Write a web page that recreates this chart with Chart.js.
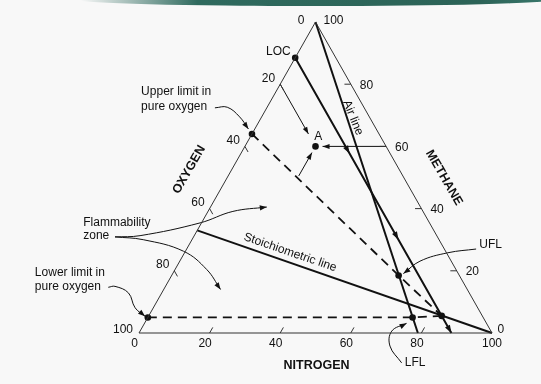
<!DOCTYPE html>
<html>
<head>
<meta charset="utf-8">
<title>Methane flammability diagram</title>
<script src="https://cdn.jsdelivr.net/npm/chart.js"></script>
<style>
  html, body { margin: 0; padding: 0; background: #f8f8f8; }
  body { width: 541px; height: 384px; position: relative; overflow: hidden; }
  .topbar {
    position: absolute; left: 80px; top: 0; width: 470px; height: 6px;
    background: linear-gradient(to right, rgba(46,106,94,0), #2f6a5e 25%, #2c6357 85%, #3a786c);
    border-radius: 0 0 50% 50% / 0 0 100% 100%;
  }
  canvas { position: absolute; left: 0; top: 0; }
</style>
</head>
<body>
<div class="topbar"></div>
<canvas id="chart" width="541" height="384"></canvas>
<script>
// compositions are [oxygen, nitrogen, methane] in %
const tickValues = [0, 20, 40, 60, 80, 100];
const triangle = [[100, 0, 0], [0, 100, 0], [0, 0, 100], [100, 0, 0]];
const airLine = [[0, 0, 100], [21, 79, 0]];
const locLine = [[11.5, 0, 88.5], [11.5, 30.8, 57.7], [11.5, 58.5, 30], [11.5, 88.5, 0]];
const stoichLine = [[67, 0, 33], [0, 100, 0]];
const upperBoundary = [[36, 0, 64], [17.2, 64.3, 18.5], [11.5, 83, 5.5]];
const lowerBoundary = [[95, 0, 5], [20, 75, 5], [11.5, 83, 5.5]];
const markedPoints = [[11.5, 0, 88.5], [36, 0, 64], [20, 20, 60], [95, 0, 5], [17.2, 64.3, 18.5], [20, 75, 5], [11.5, 83, 5.5]];
const arrowOxygen = [[20, 0, 80], [20, 16, 64]];
const arrowMethane = [[0, 40, 60], [18, 22, 60]];
const arrowNitrogen = [[29.5, 20, 50.5], [22, 20, 58]];

// callout curves, in plain chart units (x, y)
const calloutUpperO2 = [[21.5, 72.4], [25.0, 72.6], [28.5, 69.5], [31.0, 65.6]];
const calloutLowerO2 = [[-8.7, 14.7], [-6.8, 15.0], [-3.0, 12.9], [-1.1, 8.1], [1.7, 5.4]];
const calloutZoneUp = [[-6.8, 30.9], [0.3, 31.3], [17.3, 35.4], [26.6, 39.1], [36.2, 40.5]];
const calloutZoneDown = [[-6.8, 30.9], [1.2, 30.0], [12.6, 26.3], [19.2, 20.4], [23.1, 14.0]];
const calloutUFL = [[95.5, 27.0], [87.5, 25.8], [79.6, 23.1], [74.9, 19.1]];
const calloutLFL = [[74.4, -9.6], [71.1, -4.2], [71.6, 0.6], [75.8, 3.1]];

const labels = [
  { text: 'LOC', x: 39.5, y: 90.6 },
  { text: 'A', x: 50.8, y: 63.0 },
  { text: 'UFL', x: 99.6, y: 28.4 },
  { text: 'LFL', x: 78.2, y: -9.6 },
  { text: 'Upper limit in', x: 0.6, y: 77.5, align: 'left' },
  { text: 'pure oxygen', x: 0.6, y: 72.9, align: 'left' },
  { text: 'Flammability', x: -15.8, y: 35.6, align: 'left' },
  { text: 'zone', x: -15.8, y: 31.2, align: 'left' },
  { text: 'Lower limit in', x: -29.5, y: 19.3, align: 'left' },
  { text: 'pure oxygen', x: -29.5, y: 14.8, align: 'left' },
  { text: 'Air line', x: 60.6, y: 69.2, rot: 68 },
  { text: 'Stoichiometric line', x: 42.8, y: 25.9, rot: 19 },
  { text: 'OXYGEN', x: 14.2, y: 52.5, rot: -60, bold: true },
  { text: 'METHANE', x: 86.4, y: 49.9, rot: 60, bold: true },
  { text: 'NITROGEN', x: 50.3, y: -10.4, bold: true }
];

const FONT = '"Liberation Sans", Arial, sans-serif';
const toXY = ([o, n, m]) => ({ x: n + m / 2, y: m });
const xy = ([x, y]) => ({ x, y });

function line(data, extra) {
  return Object.assign({
    data, showLine: true, borderColor: '#111', backgroundColor: '#111',
    borderWidth: 2, pointRadius: 0, clip: false, tension: 0
  }, extra);
}

function drawHead(ctx, x, y, a, len, half) {
  ctx.save();
  ctx.translate(x, y);
  ctx.rotate(a);
  ctx.beginPath();
  ctx.moveTo(0, 0);
  ctx.lineTo(-len, -half);
  ctx.lineTo(-len, half);
  ctx.closePath();
  ctx.fillStyle = '#111';
  ctx.fill();
  ctx.restore();
}

const ternaryPlugin = {
  id: 'ternary',
  afterDatasetsDraw(chart) {
    const ctx = chart.ctx;
    const xs = chart.scales.x, ys = chart.scales.y;
    const pos = (c) => { const p = toXY(c); return [xs.getPixelForValue(p.x), ys.getPixelForValue(p.y)]; };

    // arrowheads
    chart.data.datasets.forEach((ds, i) => {
      if (!ds.arrowAt) return;
      const pts = chart.getDatasetMeta(i).data;
      ds.arrowAt.forEach(k => {
        const p = pts[k];
        let fx = p.cp1x, fy = p.cp1y;
        if (fx === undefined || (Math.abs(fx - p.x) < 0.5 && Math.abs(fy - p.y) < 0.5)) {
          fx = pts[k - 1].x; fy = pts[k - 1].y;
        }
        drawHead(ctx, p.x, p.y, Math.atan2(p.y - fy, p.x - fx), ds.headLen || 7, ds.headHalf || 2.5);
      });
    });

    // axis ticks
    ctx.save();
    ctx.strokeStyle = '#333';
    ctx.lineWidth = 1;
    const t = 1.8;
    tickValues.slice(1, -1).forEach(v => {
      [[[v, 0, 100 - v], [v, t, 100 - v - t]],
       [[100 - v, v, 0], [100 - v - t, v, t]],
       [[0, 100 - v, v], [t, 100 - v - t, v]]].forEach(([a, b]) => {
        const p1 = pos(a), p2 = pos(b);
        ctx.beginPath(); ctx.moveTo(p1[0], p1[1]); ctx.lineTo(p2[0], p2[1]); ctx.stroke();
      });
    });
    ctx.restore();

    // tick labels
    ctx.save();
    ctx.fillStyle = '#111';
    ctx.font = '12px ' + FONT;
    ctx.textBaseline = 'middle';
    tickValues.forEach(v => {
      let p = pos([v, 0, 100 - v]);
      ctx.textAlign = 'right';
      if (v === 0) ctx.fillText(String(v), p[0] - 11, p[1] - 1);
      else if (v === 100) ctx.fillText(String(v), p[0] - 6, p[1] - 3);
      else ctx.fillText(String(v), p[0] - 5, p[1] - 6);

      p = pos([100 - v, v, 0]);
      ctx.textAlign = 'center';
      ctx.fillText(String(v), p[0] - (v === 100 ? 0 : 4.5), p[1] + 11);

      p = pos([0, 100 - v, v]);
      ctx.textAlign = 'left';
      if (v === 100) ctx.fillText(String(v), p[0] + 8, p[1] - 1);
      else if (v === 0) ctx.fillText(String(v), p[0] + 5.5, p[1] - 3);
      else ctx.fillText(String(v), p[0] + 9, p[1] + 1);
    });

    // annotations
    labels.forEach(l => {
      ctx.save();
      ctx.translate(xs.getPixelForValue(l.x), ys.getPixelForValue(l.y));
      if (l.rot) ctx.rotate(l.rot * Math.PI / 180);
      ctx.font = (l.bold ? 'bold 12.5px ' : '12px ') + FONT;
      ctx.textAlign = l.align || 'center';
      ctx.textBaseline = 'middle';
      ctx.fillText(l.text, 0, 0);
      ctx.restore();
    });
    ctx.restore();
  }
};

const callout = (pts) => line(pts.map(xy), { borderWidth: 1, tension: 0.4, arrowAt: [pts.length - 1], headLen: 7, headHalf: 2.6 });

// fix the 0..100 range after the data limits, so points outside it are not culled
const fixRange = (scale) => { scale.min = 0; scale.max = 100; };

new Chart(document.getElementById('chart').getContext('2d'), {
  type: 'scatter',
  data: {
    datasets: [
      line(triangle.map(toXY), { borderWidth: 1, borderColor: '#333' }),
      line(airLine.map(toXY)),
      line(locLine.map(toXY), { arrowAt: [1, 2, 3], headLen: 8, headHalf: 2.8 }),
      line(stoichLine.map(toXY)),
      line(upperBoundary.map(toXY), { borderDash: [9, 6], borderWidth: 1.8 }),
      line(lowerBoundary.map(toXY), { borderDash: [9, 6], borderWidth: 1.8 }),
      line(arrowOxygen.map(toXY), { borderWidth: 1, arrowAt: [1] }),
      line(arrowMethane.map(toXY), { borderWidth: 1, arrowAt: [1] }),
      line(arrowNitrogen.map(toXY), { borderWidth: 1, arrowAt: [1] }),
      callout(calloutUpperO2),
      callout(calloutLowerO2),
      callout(calloutZoneUp),
      callout(calloutZoneDown),
      callout(calloutUFL),
      callout(calloutLFL),
      { data: markedPoints.map(toXY), showLine: false, pointRadius: 3.3, pointBorderWidth: 0,
        pointBackgroundColor: '#111', pointBorderColor: '#111', clip: false }
    ]
  },
  options: {
    responsive: false,
    animation: false,
    events: [],
    layout: { padding: { left: 139, right: 49, top: 22, bottom: 51 } },
    elements: { line: { capBezierPoints: false } },
    scales: {
      x: { type: 'linear', bounds: 'data', display: false, afterDataLimits: fixRange },
      y: { type: 'linear', bounds: 'data', display: false, afterDataLimits: fixRange }
    },
    plugins: { legend: { display: false }, tooltip: { enabled: false } }
  },
  plugins: [ternaryPlugin]
});
</script>
</body>
</html>
